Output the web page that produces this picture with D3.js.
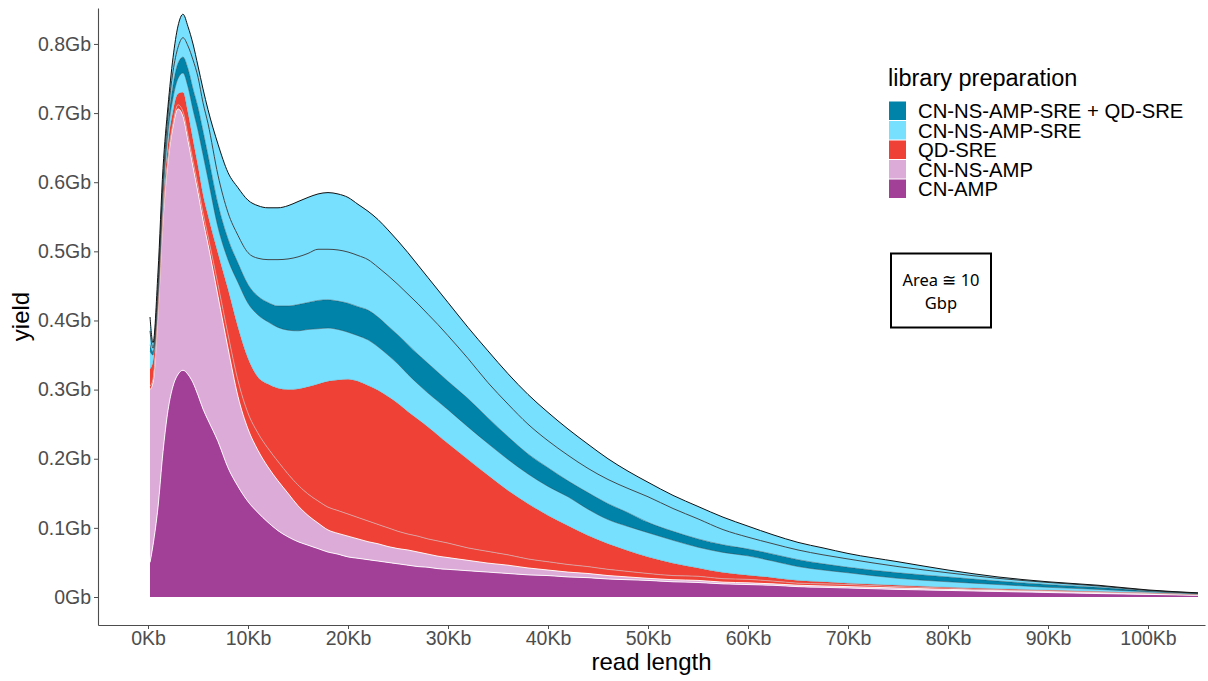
<!DOCTYPE html>
<html>
<head>
    <meta charset="utf-8">
    <title>Read length yield by library preparation</title>
    <style>
        body {
            margin: 0;
            background: #fff;
            font-family: "Liberation Sans", Arial, sans-serif;
        }
        .tick text {
            fill: #4d4d4d;
            font-size: 19.5px;
            font-family: "Liberation Sans", Arial, sans-serif;
        }
        .tick line {
            stroke: #4d4d4d;
        }
    </style>
</head>
<body>
    <script src="https://d3js.org/d3.v7.min.js"></script>
    <script>
        // read length in Kb
        var readLengthKb = [0.2, 0.5, 1, 1.5, 2, 2.5, 3, 3.5, 4, 4.5, 5, 5.5, 6,
            7, 8, 9, 10, 11, 12, 13, 14, 15, 16, 17, 18, 19, 20, 21, 22, 23, 24, 25, 26, 27, 28, 29, 30,
            32, 34, 36, 38, 40, 42, 44, 46, 48, 50,
            52.5, 55, 57.5, 60, 62.5, 65, 67.5, 70,
            75, 80, 85, 90, 95, 100, 105];

        // yield (Gb) of each run, bottom of the stack first
        var cnAmp = [0.05, 0.075, 0.13, 0.21, 0.27, 0.305, 0.322, 0.328, 0.322, 0.31, 0.292, 0.272, 0.256,
            0.225, 0.187, 0.16, 0.138, 0.122, 0.108, 0.096, 0.087, 0.08, 0.075, 0.07, 0.065, 0.062, 0.058, 0.056, 0.054, 0.052, 0.05, 0.048, 0.046, 0.044, 0.043, 0.041, 0.04,
            0.038, 0.036, 0.034, 0.032, 0.031, 0.029, 0.028, 0.026, 0.025, 0.024,
            0.022, 0.021, 0.019, 0.018, 0.017, 0.015, 0.014, 0.013,
            0.011, 0.0095, 0.008, 0.0065, 0.005, 0.0038, 0.0025];
        var cnNsAmp = [0.25, 0.235, 0.28, 0.335, 0.36, 0.375, 0.384, 0.367, 0.338, 0.312, 0.293, 0.273, 0.254,
            0.21, 0.173, 0.13, 0.105, 0.09, 0.08, 0.072, 0.063, 0.052, 0.043, 0.037, 0.032, 0.03, 0.03, 0.028, 0.026, 0.025, 0.023, 0.022, 0.022, 0.021, 0.019, 0.018, 0.017,
            0.015, 0.013, 0.012, 0.01, 0.008, 0.007, 0.006, 0.005, 0.004, 0.003,
            0.003, 0.003, 0.0025, 0.0025, 0.002, 0.002, 0.002, 0.002,
            0.002, 0.0015, 0.0015, 0.0015, 0.0015, 0.0012, 0.0005];
        var qdSreRunA = [0.005, 0.005, 0.004, 0.005, 0.005, 0.005, 0.006, 0.007, 0.008, 0.009, 0.01, 0.011, 0.012,
            0.017, 0.02, 0.023, 0.023, 0.025, 0.027, 0.028, 0.028, 0.03, 0.031, 0.032, 0.033, 0.033, 0.032, 0.031, 0.03, 0.028, 0.027, 0.025, 0.023, 0.023, 0.022, 0.022, 0.021,
            0.018, 0.017, 0.015, 0.013, 0.012, 0.011, 0.01, 0.009, 0.008, 0.007,
            0.006, 0.006, 0.005, 0.005, 0.004, 0.003, 0.003, 0.003,
            0.002, 0.002, 0.001, 0.001, 0.0007, 0.0005, 0.0003];
        var qdSreRunB = [0.025, 0.025, 0.011, 0.015, 0.02, 0.018, 0.016, 0.028, 0.032, 0.03, 0.028, 0.026, 0.03,
            0.045, 0.065, 0.077, 0.079, 0.081, 0.093, 0.106, 0.122, 0.139, 0.155, 0.169, 0.182, 0.189, 0.195, 0.197, 0.196, 0.194, 0.19, 0.185, 0.177, 0.169, 0.162, 0.153, 0.144,
            0.128, 0.11, 0.093, 0.08, 0.067, 0.056, 0.045, 0.037, 0.03, 0.024,
            0.018, 0.012, 0.009, 0.006, 0.005, 0.004, 0.003, 0.002,
            0.002, 0.001, 0.0015, 0.001, 0.0008, 0.0005, 0.0003];
        var sreRun1 = [0.025, 0.01, 0.01, 0.015, 0.017, 0.019, 0.022, 0.028, 0.038, 0.044, 0.052, 0.058, 0.053,
            0.038, 0.043, 0.065, 0.08, 0.09, 0.09, 0.088, 0.086, 0.084, 0.083, 0.08, 0.077, 0.073, 0.068, 0.066, 0.066, 0.063, 0.06, 0.057, 0.054, 0.051, 0.049, 0.049, 0.049,
            0.047, 0.046, 0.045, 0.043, 0.042, 0.042, 0.038, 0.035, 0.035, 0.035,
            0.033, 0.03, 0.029, 0.028, 0.024, 0.02, 0.017, 0.015,
            0.01, 0.008, 0.006, 0.004, 0.003, 0.0015, 0.001];
        var sreQdSre = [0.01, 0.005, 0.005, 0.01, 0.013, 0.018, 0.022, 0.023, 0.026, 0.03, 0.033, 0.034, 0.034,
            0.033, 0.03, 0.028, 0.027, 0.027, 0.028, 0.031, 0.035, 0.038, 0.039, 0.041, 0.041, 0.041, 0.042, 0.042, 0.043, 0.043, 0.042, 0.042, 0.043, 0.043, 0.043, 0.042, 0.041,
            0.041, 0.037, 0.033, 0.029, 0.027, 0.023, 0.024, 0.023, 0.02, 0.015,
            0.013, 0.012, 0.011, 0.01, 0.01, 0.01, 0.009, 0.008,
            0.008, 0.007, 0.005, 0.004, 0.003, 0.0013, 0.0007];
        var sreRun2 = [0.02, 0.005, 0.01, 0.01, 0.013, 0.02, 0.023, 0.028, 0.033, 0.042, 0.044, 0.041, 0.046,
            0.042, 0.038, 0.04, 0.046, 0.055, 0.062, 0.067, 0.068, 0.069, 0.071, 0.074, 0.073, 0.074, 0.074, 0.074, 0.073, 0.072, 0.073, 0.073, 0.073, 0.073, 0.071, 0.069, 0.066,
            0.058, 0.051, 0.047, 0.043, 0.039, 0.037, 0.035, 0.035, 0.035, 0.037,
            0.033, 0.029, 0.022, 0.017, 0.015, 0.014, 0.013, 0.012,
            0.009, 0.006, 0.004, 0.003, 0.002, 0.0007, 0.0004];
        var sreRun3 = [0.02, 0.008, 0.02, 0.02, 0.012, 0.02, 0.031, 0.034, 0.028, 0.023, 0.016, 0.02, 0.02,
            0.045, 0.058, 0.069, 0.076, 0.076, 0.075, 0.075, 0.077, 0.08, 0.081, 0.08, 0.082, 0.081, 0.079, 0.074, 0.07, 0.069, 0.066, 0.063, 0.06, 0.056, 0.053, 0.05, 0.048,
            0.045, 0.046, 0.044, 0.043, 0.041, 0.038, 0.035, 0.03, 0.025, 0.021,
            0.019, 0.018, 0.018, 0.016, 0.013, 0.011, 0.01, 0.008,
            0.007, 0.004, 0.002, 0.001, 0.001, 0.0007, 0.0003];

        // legend (top to bottom)
        var libraries = ["CN-NS-AMP-SRE + QD-SRE", "CN-NS-AMP-SRE", "QD-SRE", "CN-NS-AMP", "CN-AMP"];
        var libraryColors = ["#0083a9", "#78e0ff", "#ef4136", "#ddabd7", "#a14096"];

        var yTicks = [0, 0.1, 0.2, 0.3, 0.4, 0.5, 0.6, 0.7, 0.8];
        var xTicks = [0, 10, 20, 30, 40, 50, 60, 70, 80, 90, 100];

        // runs in stacking order, with the library they belong to and their outline
        var runs = [
            { key: "cnAmp", values: cnAmp, lib: "CN-AMP", line: "#ffffff", lw: 0.9 },
            { key: "cnNsAmp", values: cnNsAmp, lib: "CN-NS-AMP", line: "#ffffff", lw: 0.9 },
            { key: "qdSreA", values: qdSreRunA, lib: "QD-SRE", line: "#d9a3a3", lw: 0.9 },
            { key: "qdSreB", values: qdSreRunB, lib: "QD-SRE", line: "rgba(70,70,70,0.3)", lw: 0.6 },
            { key: "sre1", values: sreRun1, lib: "CN-NS-AMP-SRE", line: "rgba(50,50,50,0.55)", lw: 0.7 },
            { key: "sreQd", values: sreQdSre, lib: "CN-NS-AMP-SRE + QD-SRE", line: "rgba(50,50,50,0.55)", lw: 0.7 },
            { key: "sre2", values: sreRun2, lib: "CN-NS-AMP-SRE", line: "#333", lw: 0.9 },
            { key: "sre3", values: sreRun3, lib: "CN-NS-AMP-SRE", line: "#111", lw: 1 }
        ];

        var color = d3.scaleOrdinal().domain(libraries).range(libraryColors);

        var table = readLengthKb.map(function(x, i) {
            var row = { x: x };
            runs.forEach(function(r) { row[r.key] = r.values[i]; });
            return row;
        });

        var stacked = d3.stack().keys(runs.map(r => r.key))(table);

        var width = 1208, height = 681;
        var panelLeft = 98, panelRight = 1205, panelTop = 8, panelBottom = 625;

        var x = d3.scaleLinear().domain([-5, 105.7]).range([panelLeft, panelRight]);
        var y = d3.scaleLinear().domain([-0.0405, 0.852]).range([panelBottom, panelTop]);

        var svg = d3.select("body").append("svg")
            .attr("width", width)
            .attr("height", height);

        var area = d3.area()
            .curve(d3.curveMonotoneX)
            .x(d => x(d.data.x))
            .y0(d => y(d[0]))
            .y1(d => y(d[1]));

        var topLine = d3.line()
            .curve(d3.curveMonotoneX)
            .x(d => x(d.data.x))
            .y(d => y(d[1]));

        // filled layers
        svg.append("g")
            .selectAll("path")
            .data(stacked)
            .enter().append("path")
            .attr("d", area)
            .attr("fill", (d, i) => color(runs[i].lib));

        // run outlines
        svg.append("g")
            .selectAll("path")
            .data(stacked)
            .enter().append("path")
            .attr("d", topLine)
            .attr("fill", "none")
            .attr("stroke", (d, i) => runs[i].line)
            .attr("stroke-width", (d, i) => runs[i].lw);

        // axes
        var yAxis = svg.append("g")
            .attr("transform", "translate(" + panelLeft + ",0)")
            .call(d3.axisLeft(y)
                .tickValues(yTicks)
                .tickSize(4)
                .tickSizeOuter(0)
                .tickPadding(3)
                .tickFormat(d => (d === 0 ? "0" : d3.format(".1f")(d)) + "Gb"));

        var xAxis = svg.append("g")
            .attr("transform", "translate(0," + panelBottom + ")")
            .call(d3.axisBottom(x)
                .tickValues(xTicks)
                .tickSize(4)
                .tickSizeOuter(0)
                .tickPadding(2)
                .tickFormat(d => d + "Kb"));

        [xAxis, yAxis].forEach(function(a) {
            a.select(".domain").attr("stroke", "#4d4d4d").attr("stroke-width", 1.1);
        });

        // axis titles
        svg.append("text")
            .attr("x", (panelLeft + panelRight) / 2)
            .attr("y", 670)
            .attr("text-anchor", "middle")
            .attr("font-size", 24)
            .attr("fill", "#000")
            .text("read length");

        svg.append("text")
            .attr("transform", "translate(29," + ((panelTop + panelBottom) / 2) + ") rotate(-90)")
            .attr("text-anchor", "middle")
            .attr("font-size", 24)
            .attr("fill", "#000")
            .text("yield");

        // legend
        var legend = svg.append("g").attr("transform", "translate(889,0)");

        legend.append("text")
            .attr("x", -1)
            .attr("y", 86)
            .attr("font-size", 23.5)
            .attr("fill", "#000")
            .text("library preparation");

        var items = legend.selectAll(".item")
            .data(libraries)
            .enter().append("g")
            .attr("class", "item")
            .attr("transform", (d, i) => "translate(0," + (101.5 + i * 19.5) + ")");

        items.append("rect")
            .attr("width", 17)
            .attr("height", 18.5)
            .attr("fill", d => color(d));

        items.append("text")
            .attr("x", 29)
            .attr("y", 9.25)
            .attr("dy", "0.36em")
            .attr("font-size", 20.3)
            .attr("fill", "#000")
            .text(d => d);

        // annotation box
        var note = svg.append("g");
        note.append("rect")
            .attr("x", 891)
            .attr("y", 253.5)
            .attr("width", 100)
            .attr("height", 74)
            .attr("fill", "none")
            .attr("stroke", "#000")
            .attr("stroke-width", 2);

        note.selectAll("text")
            .data(["Area \u2245 10", "Gbp"])
            .enter().append("text")
            .attr("x", 941)
            .attr("y", (d, i) => 285.5 + i * 23)
            .attr("text-anchor", "middle")
            .attr("font-family", "'Noto Sans', sans-serif")
            .attr("font-size", 16.5)
            .attr("fill", "#000")
            .text(d => d);
    </script>
</body>
</html>
